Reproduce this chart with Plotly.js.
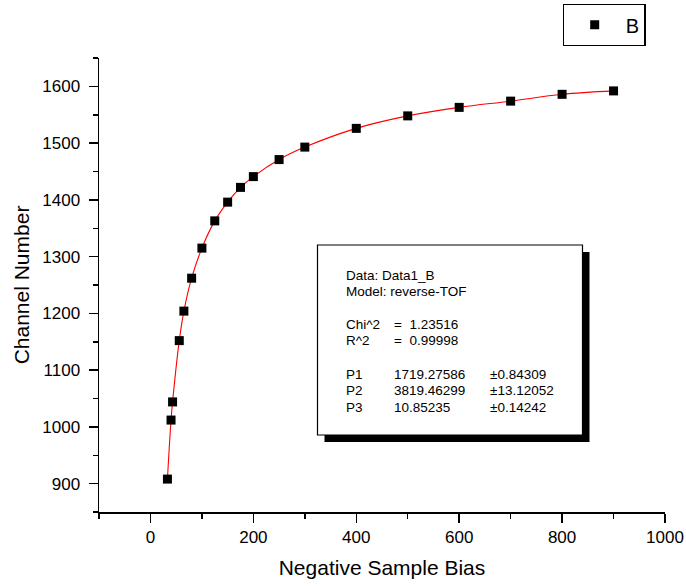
<!DOCTYPE html>
<html>
<head>
<meta charset="utf-8">
<script src="https://cdn.plot.ly/plotly-3.0.1.min.js"></script>
<style>html,body{margin:0;padding:0;background:#fff;}#chart{width:686px;height:586px;}</style>
</head>
<body>
<div id="chart"></div>
<script>
// ---- data ----
var biasValues = [33, 40, 43, 56, 65, 80, 100, 125, 150, 175, 200, 250, 300, 400, 500, 600, 700, 800, 900];
var channelValues = [908, 1012, 1044, 1152, 1204, 1262, 1315, 1363, 1396, 1422, 1441, 1471, 1493, 1526, 1548, 1563, 1574, 1586, 1592];
var seriesName = "B";
var xTickValues = [0, 200, 400, 600, 800, 1000];
var yTickValues = [900, 1000, 1100, 1200, 1300, 1400, 1500, 1600];
var infoHeader = ["Data: Data1_B", "Model: reverse-TOF"];
var statNames = ["Chi^2", "R^2"];
var statValues = ["1.23516", "0.99998"];
var paramNames = ["P1", "P2", "P3"];
var paramValues = ["1719.27586", "3819.46299", "10.85235"];
var paramErrors = ["\u00b10.84309", "\u00b113.12052", "\u00b10.14242"];

// ---- layout geometry (pixels) ----
var W = 686, H = 586;
var plotL = 99, plotR = 665, plotT = 58, plotB = 512;
function px(x){ return (x - plotL) / (plotR - plotL); }
function py(y){ return (plotB - y) / (plotB - plotT); }

var FONT = "Liberation Sans, Arial, Helvetica, sans-serif";

var traces = [
  {
    x: biasValues, y: channelValues, type: "scatter", mode: "lines",
    line: {color: "#ff0000", width: 1.1, shape: "spline", smoothing: 1},
    showlegend: false, hoverinfo: "skip"
  },
  {
    x: biasValues, y: channelValues, type: "scatter", mode: "markers",
    name: seriesName,
    marker: {symbol: "square", size: 9, color: "#000", line: {width: 0}}
  }
];

var shapes = [
  // shadow
  {type: "rect", xref: "paper", yref: "paper", layer: "above",
   x0: px(324.5), x1: px(589.5), y0: py(442), y1: py(252),
   fillcolor: "#000", line: {width: 0}},
  // box
  {type: "rect", xref: "paper", yref: "paper", layer: "above",
   x0: px(317.5), x1: px(582.5), y0: py(435), y1: py(245),
   fillcolor: "#fff", line: {color: "#000", width: 1.2}}
];

var annotations = [];
function addText(t, x, y){
  annotations.push({text: t, xref: "paper", yref: "paper", x: px(x), y: py(y),
    xanchor: "left", yanchor: "middle", showarrow: false,
    font: {family: FONT, size: 13.5, color: "#000"}});
}
var hy = [275, 291];
infoHeader.forEach(function(t, i){ addText(t, 344, hy[i]); });
var sy = [324, 340.5];
statNames.forEach(function(t, i){
  addText(t, 344, sy[i]);
  addText("=  " + statValues[i], 392, sy[i]);
});
var pyPos = [374, 390.5, 407];
paramNames.forEach(function(t, i){
  addText(t, 344, pyPos[i]);
  addText(paramValues[i], 392, pyPos[i]);
  addText(paramErrors[i], 488, pyPos[i]);
});

var axisCommon = {
  showline: true, linecolor: "#000", linewidth: 1.5, mirror: false,
  ticks: "outside", ticklen: 9, tickwidth: 1.5, tickcolor: "#000",
  showgrid: false, zeroline: false,
  tickfont: {family: FONT, size: 17, color: "#000"}
};

var layout = {
  width: W, height: H,
  margin: {l: plotL, r: W - plotR, t: plotT, b: H - plotB, pad: 0, autoexpand: false},
  paper_bgcolor: "#fff", plot_bgcolor: "#fff",
  font: {family: FONT, color: "#000"},
  xaxis: Object.assign({}, axisCommon, {
    range: [-100, 1000], tickvals: xTickValues, ticktext: xTickValues.map(String),
    minor: {ticks: "outside", ticklen: 5, tickwidth: 1.5, tickcolor: "#000", dtick: 100, tick0: -100, showgrid: false},
    title: {text: "Negative Sample Bias", font: {family: FONT, size: 21, color: "#000"}, standoff: 14}
  }),
  yaxis: Object.assign({}, axisCommon, {
    range: [850, 1650], tickvals: yTickValues, ticktext: yTickValues.map(String),
    minor: {ticks: "outside", ticklen: 5, tickwidth: 1.5, tickcolor: "#000", dtick: 50, tick0: 850, showgrid: false},
    ticklabelstandoff: 5,
    title: {text: "Channel Number", font: {family: FONT, size: 21, color: "#000"}, standoff: 7}
  }),
  showlegend: true,
  legend: {
    x: px(562.5), y: py(4), xanchor: "left", yanchor: "top",
    bordercolor: "#000", borderwidth: 1.2, bgcolor: "#fff",
    font: {family: FONT, size: 20, color: "#000"},
    itemwidth: 52
  },
  shapes: shapes,
  annotations: annotations
};

Plotly.newPlot("chart", traces, layout, {displayModeBar: false, staticPlot: true});
</script>
</body>
</html>
